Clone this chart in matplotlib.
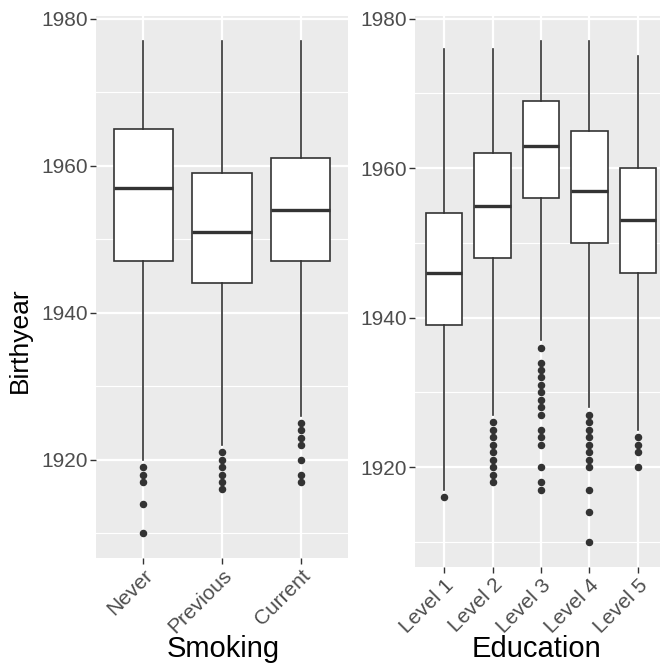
import matplotlib
matplotlib.use("Agg")
import matplotlib.pyplot as plt

plt.rcParams['font.family'] = ['Liberation Sans', 'DejaVu Sans']

# Birth year by smoking status
smoking = ['Never', 'Previous', 'Current']
smk_q1 = [1947, 1944, 1947]
smk_med = [1957, 1951, 1954]
smk_q3 = [1965, 1959, 1961]
smk_lo = [1920, 1922, 1926]
smk_hi = [1977, 1977, 1977]
smk_out = [
    [1919, 1918, 1917, 1914, 1910],
    [1921, 1920, 1919, 1918, 1917, 1916],
    [1925, 1924, 1923, 1922, 1920, 1918, 1917],
]

# Birth year by education level
education = ['Level 1', 'Level 2', 'Level 3', 'Level 4', 'Level 5']
edu_q1 = [1939, 1948, 1956, 1950, 1946]
edu_med = [1946, 1955, 1963, 1957, 1953]
edu_q3 = [1954, 1962, 1969, 1965, 1960]
edu_lo = [1917, 1927, 1937, 1928, 1925]
edu_hi = [1976, 1976, 1977, 1977, 1975]
edu_out = [
    [1916],
    [1926, 1925, 1924, 1923, 1922, 1921, 1920, 1919, 1918],
    [1936, 1934, 1933, 1932, 1931, 1930, 1929, 1928, 1927, 1925, 1924, 1923,
     1920, 1918, 1917],
    [1927, 1926, 1925, 1924, 1923, 1922, 1921, 1920, 1917, 1914, 1910],
    [1924, 1923, 1922, 1920],
]

y_major = [1920, 1940, 1960, 1980]
y_minor = [1910, 1930, 1950, 1970]
y_lim = (1906.65, 1980.35)

DARK = '#333333'
TXT = '#4D4D4D'


def gg_box(ax, labels, q1, med, q3, lo, hi, out):
    stats = []
    for i in range(len(labels)):
        stats.append(dict(q1=q1[i], med=med[i], q3=q3[i],
                          whislo=lo[i], whishi=hi[i], fliers=out[i]))
    pos = list(range(1, len(labels) + 1))
    ax.set_facecolor('#EBEBEB')
    ax.set_axisbelow(True)
    for y in y_minor:
        ax.axhline(y, color='white', lw=0.8, zorder=0)
    for y in y_major:
        ax.axhline(y, color='white', lw=1.6, zorder=0)
    for x in pos:
        ax.axvline(x, color='white', lw=1.6, zorder=0)
    ax.bxp(stats, positions=pos, widths=0.75, showcaps=False,
           patch_artist=True,
           boxprops=dict(facecolor='white', edgecolor=DARK, linewidth=1.2),
           whiskerprops=dict(color=DARK, linewidth=1.2),
           medianprops=dict(color=DARK, linewidth=2.4),
           flierprops=dict(marker='o', markerfacecolor=DARK,
                           markeredgecolor=DARK, markersize=4.4))
    ax.set_xlim(0.4, len(labels) + 0.6)
    ax.set_ylim(*y_lim)
    ax.set_yticks(y_major)
    ax.set_yticklabels([str(y) for y in y_major])
    ax.set_xticks(pos)
    ax.set_xticklabels(labels, rotation=45, ha='right', va='top',
                       rotation_mode='anchor')
    ax.tick_params(axis='both', colors=DARK, labelcolor=TXT, labelsize=15,
                   length=4, width=1.0, pad=2)
    for s in ax.spines.values():
        s.set_visible(False)


fig = plt.figure(figsize=(6.6, 6.7), dpi=100)
ax1 = fig.add_axes([96 / 660, 112 / 670, 252 / 660, 542 / 670])
ax2 = fig.add_axes([415 / 660, 103 / 670, 252 / 660, 551 / 670])

gg_box(ax1, smoking, smk_q1, smk_med, smk_q3, smk_lo, smk_hi, smk_out)
gg_box(ax2, education, edu_q1, edu_med, edu_q3, edu_lo, edu_hi, edu_out)

fig.text(223 / 660, 1 - 657 / 670, 'Smoking', fontsize=21, ha='center',
         va='baseline')
fig.text(537 / 660, 1 - 657 / 670, 'Education', fontsize=21, ha='center',
         va='baseline')
fig.text(32 / 660, 1 - 340 / 670, 'Birthyear', fontsize=19, rotation=90,
         ha='right', va='center')

fig.savefig('out.png', dpi=100)
